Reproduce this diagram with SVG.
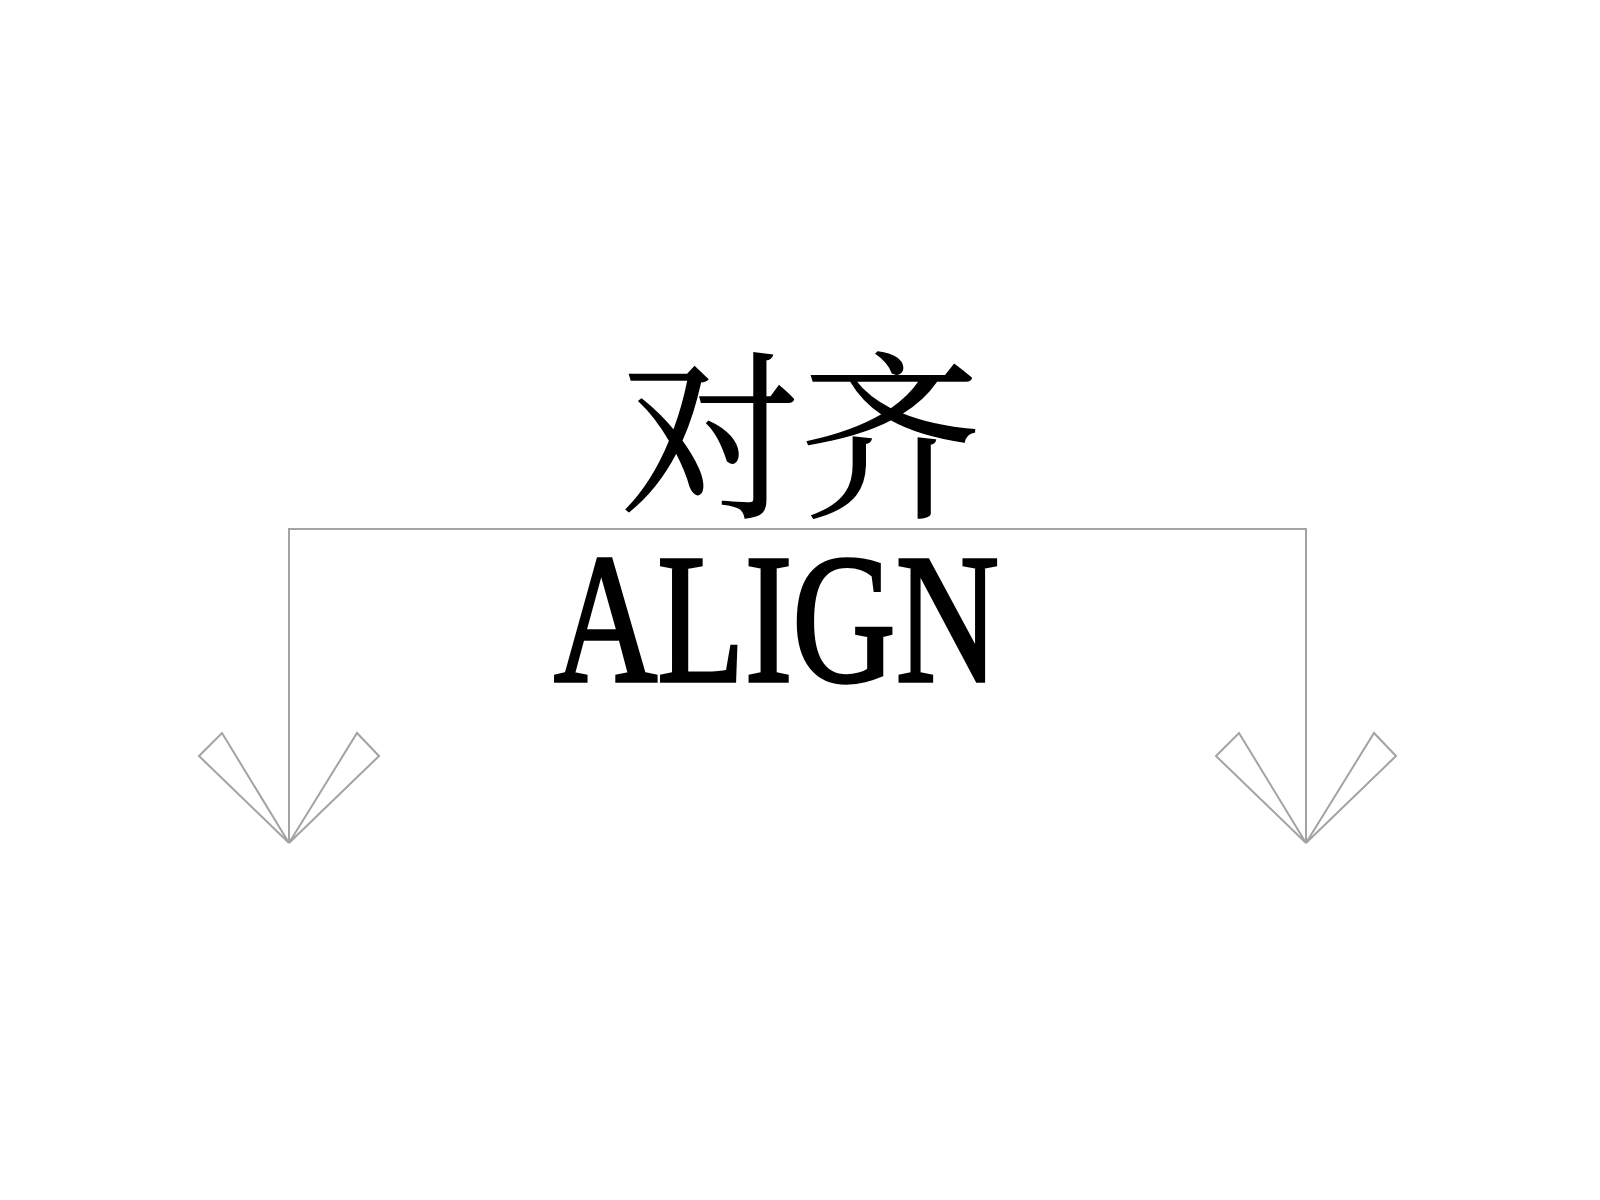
<svg xmlns="http://www.w3.org/2000/svg" xmlns:xlink="http://www.w3.org/1999/xlink" width="1600" height="1200" viewBox="0 0 1600 1200">
<style>
.conn{fill:none;stroke:#a3a3a3;stroke-width:2;stroke-linejoin:miter}
.head{fill:#ffffff;stroke:#a3a3a3;stroke-width:2;stroke-linejoin:miter}
.cjk{font-family:"Noto Serif CJK SC","Noto Sans CJK SC",serif;font-size:180px;fill:#000;stroke:#000;stroke-width:1.5}
.lat{font-family:"Liberation Serif",serif;font-size:184px;fill:#000;stroke:#000;stroke-width:3.5}
</style>
<defs>
<g id="arrowhead">
<polygon class="head" points="0,0 -90,-87 -67,-110"/>
<polygon class="head" points="0,0 68,-110 90,-87"/>
</g>
</defs>
<rect width="1600" height="1200" fill="#ffffff"/>
<g id="connectors">
<path class="conn" d="M289,843 V529 H1306 V843"/>
<use xlink:href="#arrowhead" href="#arrowhead" x="289" y="843"/>
<use xlink:href="#arrowhead" href="#arrowhead" x="1306" y="843"/>
</g>
<g id="title-cn">
<text class="cjk" x="801" y="503" text-anchor="middle">对齐</text>
</g>
<g id="title-en">
<text class="lat" x="554" y="681" textLength="445" lengthAdjust="spacingAndGlyphs">ALIGN</text>
</g>
</svg>
